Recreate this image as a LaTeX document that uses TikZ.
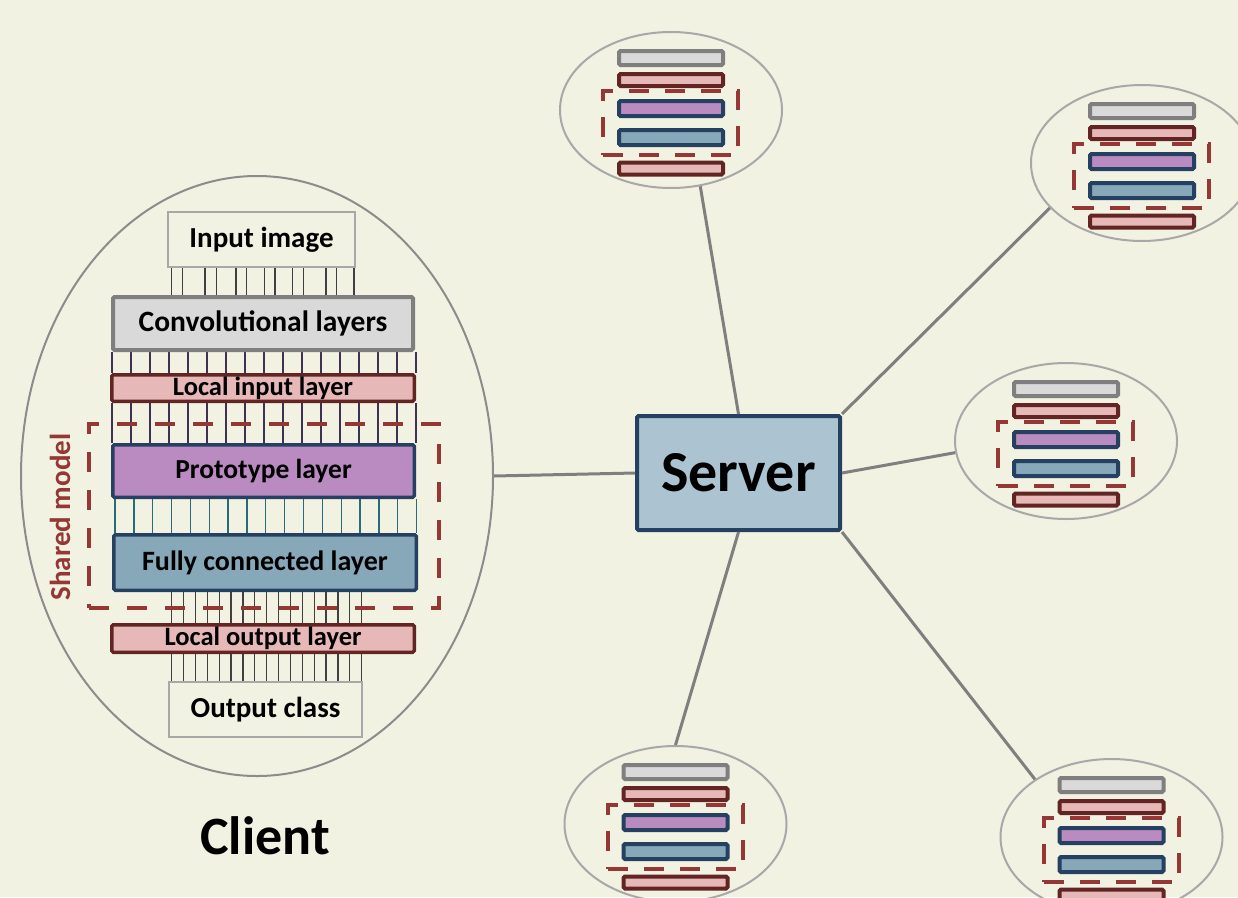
\documentclass[tikz,border=0pt]{standalone}
\usepackage{fontspec}
\setmainfont{Carlito}
\usetikzlibrary{shapes.geometric}
\definecolor{bgc}{HTML}{F2F2E2}
\definecolor{convfill}{HTML}{D9D9D9}
\definecolor{convdraw}{HTML}{7F7F7F}
\definecolor{pinkfill}{HTML}{E6B9B8}
\definecolor{pinkdraw}{HTML}{632523}
\definecolor{protofill}{HTML}{B98BC1}
\definecolor{navy}{HTML}{254061}
\definecolor{fcfill}{HTML}{86A8B9}
\definecolor{serverfill}{HTML}{ACC4D2}
\definecolor{dashred}{HTML}{953735}
\definecolor{ellgray}{HTML}{A8A8A8}
\definecolor{bigellgray}{HTML}{8C8C8C}
\definecolor{linkgray}{HTML}{7F7F7F}
\definecolor{wiregray}{HTML}{404040}
\definecolor{wirepurple}{HTML}{3F3151}
\definecolor{wireteal}{HTML}{2B6A7A}
\pgfdeclarelayer{back}
\pgfsetlayers{back,main}
\tikzset{
  layerbox/.style={rectangle, inner sep=0pt, rounded corners=1.5pt, font=\fontsize{29.5}{34}\selectfont\bfseries},
  convbox/.style={layerbox, fill=convfill, draw=convdraw, line width=4pt},
  pinkbox/.style={layerbox, fill=pinkfill, draw=pinkdraw, line width=3.5pt, font=\fontsize{26.5}{30}\selectfont\bfseries},
  protobox/.style={layerbox, fill=protofill, draw=navy, line width=3.5pt, font=\fontsize{27.5}{32}\selectfont\bfseries},
  fcbox/.style={layerbox, fill=fcfill, draw=navy, line width=3.5pt, font=\fontsize{28}{32}\selectfont\bfseries},
  iobox/.style={layerbox, rounded corners=0pt, draw=ellgray, line width=1.5pt, font=\fontsize{29}{32}\selectfont\bfseries},
  dashbox/.style={rectangle, inner sep=0pt, draw=dashred, line width=4.5pt, dash pattern=on 20pt off 18pt},
  wire/.style={line width=1.3pt},
  link/.style={draw=linkgray, line width=3pt},
  minell/.style={ellipse, inner sep=0pt, draw=ellgray, line width=2pt, minimum width=222pt, minimum height=156pt},
  minibar/.style={rectangle, inner sep=0pt, rounded corners=1.5pt, line width=4pt, minimum width=104pt},
  minidash/.style={rectangle, inner sep=0pt, draw=dashred, line width=4pt, dash pattern=on 20pt off 16pt, minimum width=135pt, minimum height=64pt},
  mini/.pic={
    \node[minell] (-ell) at (0,0) {};
    \node[minibar, fill=convfill, draw=convdraw, minimum height=14pt] (-conv) at (0,-52) {};
    \node[minibar, fill=pinkfill, draw=pinkdraw, minimum height=12pt] (-lin) at (0,-30) {};
    \node[minibar, fill=protofill, draw=navy, minimum height=15pt] (-proto) at (0,-1.5) {};
    \node[minibar, fill=fcfill, draw=navy, minimum height=15pt] (-fc) at (0,27.5) {};
    \node[minibar, fill=pinkfill, draw=pinkdraw, minimum height=12pt] (-lout) at (0,58.5) {};
    \node[minidash] (-shared) at (-0.5,13) {};
  }
}
\begin{document}
\begin{tikzpicture}[x=1pt,y=-1pt]
\useasboundingbox (0,0) rectangle (1238,897);

% client
\node[ellipse, inner sep=0pt, draw=bigellgray, line width=2pt, minimum width=472pt, minimum height=600pt] (client) at (257,476) {};
\node[iobox, minimum width=187pt, minimum height=55pt] (input) at (261.5,239.5) {Input image};
\node[convbox, minimum width=300pt, minimum height=53pt] (conv) at (263,323.5) {Convolutional layers};
\node[pinkbox, minimum width=302.5pt, minimum height=26.5pt] (lin) at (263,388) {Local input layer};
\node[protobox, minimum width=301.5pt, minimum height=52.5pt] (proto) at (263.5,471) {Prototype layer};
\node[fcbox, minimum width=302.5pt, minimum height=55.5pt] (fc) at (265,562.5) {Fully connected layer};
\node[pinkbox, minimum width=302.5pt, minimum height=27.5pt] (lout) at (263,638.5) {Local output layer};
\node[iobox, minimum width=193pt, minimum height=55pt] (output) at (265.5,709.5) {Output class};
\node[dashbox, minimum width=350pt, minimum height=184pt] (shared) at (264,516) {};
\node[rotate=90, text=dashred, font=\fontsize{29}{34}\selectfont\bfseries] (sharedlbl) at (60,517) {Shared model};
\node[font=\fontsize{54}{62}\selectfont\bfseries] (clientlbl) at (265,836) {Client};

\begin{pgfonlayer}{back}
\fill[bgc] (0,0) rectangle (1238,897);
\foreach \x in {171.7,182.3,205,216.7,236,246.7,264.3,275,292.7,303.3,326,336.7,354}
  \draw[wire, wiregray] (\x,0 |- input.south) -- (\x,0 |- conv.north);
\foreach \i in {0,...,16}
  \draw[wire, wirepurple] (112+19*\i,0 |- conv.south) -- (112+19*\i,0 |- lin.north);
\foreach \i in {0,...,16}
  \draw[wire, wirepurple] (112+19*\i,0 |- lin.south) -- (112+19*\i,0 |- proto.north);
\foreach \i in {0,...,16}
  \draw[wire, wireteal] (115+18.85*\i,0 |- proto.south) -- (115+18.85*\i,0 |- fc.north);
\foreach \i in {0,...,16}
  \draw[wire, wiregray] (171.7+11.875*\i,0 |- fc.south) -- (171.7+11.875*\i,0 |- lout.north);
\foreach \i in {0,...,16}
  \draw[wire, wiregray] (171.7+11.875*\i,0 |- lout.south) -- (171.7+11.875*\i,0 |- output.north);
\end{pgfonlayer}

% server
\node[rectangle, inner sep=0pt, fill=serverfill, draw=navy, line width=4pt, rounded corners=1.5pt, minimum width=203pt, minimum height=114pt, font=\fontsize{58}{66}\selectfont\bfseries] (server) at (738.5,473) {Server};

% small clients
\pic (c1) at (671,110) {mini};
\pic (c2) at (1142,163) {mini};
\pic (c3) at (1066,441) {mini};
\pic (c4) at (675.5,824) {mini};
\pic (c5) at (1111.5,837) {mini};

% links
\draw[link] (client.east) -- (server.west);
\draw[link] (c1-ell.291) -- (server.north);
\draw[link] (c2-ell.206) -- (server.north east);
\draw[link] (c3-ell.186) -- (server.east);
\draw[link] (c4-ell.north) -- (server.south);
\draw[link] (c5-ell.143) -- (server.south east);
\end{tikzpicture}
\end{document}
